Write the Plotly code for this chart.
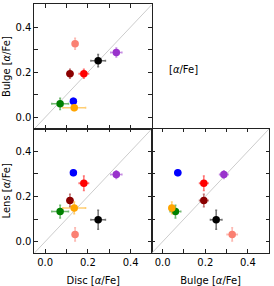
import plotly.graph_objects as go

# --- data ---
colors = ["#FA8072", "#8B0000", "#FF0000", "#000000", "#9932CC", "#0000FF", "#008000", "#FFA500"]
disc = [0.140, 0.116, 0.181, 0.248, 0.333, 0.132, 0.070, 0.136]
disc_err = [0.012, 0.015, 0.022, 0.034, 0.026, 0.012, 0.039, 0.053]
bulge = [0.326, 0.193, 0.193, 0.251, 0.287, 0.071, 0.060, 0.043]
bulge_err = [0.024, 0.020, 0.020, 0.027, 0.020, 0.014, 0.025, 0.012]
lens = [0.032, 0.182, 0.258, 0.097, 0.297, 0.305, 0.133, 0.149]
lens_err = [0.029, 0.028, 0.032, 0.042, 0.017, 0.012, 0.028, 0.026]
lim = [-0.05, 0.5]
tick_vals = [0.0, 0.1, 0.2, 0.3, 0.4]
tick_text = ["0.0", "", "0.2", "", "0.4"]

FONT = "DejaVu Sans"


def rgba(hexc, a):
    h = hexc.lstrip("#")
    r, g, b = int(h[0:2], 16), int(h[2:4], 16), int(h[4:6], 16)
    return f"rgba({r},{g},{b},{a})"


fig = go.Figure()

panels = [
    (disc, disc_err, bulge, bulge_err, "x", "y"),
    (disc, disc_err, lens, lens_err, "x2", "y2"),
    (bulge, bulge_err, lens, lens_err, "x3", "y3"),
]

for xv, xe, yv, ye, xa, ya in panels:
    fig.add_trace(go.Scatter(x=lim, y=lim, mode="lines",
                             line=dict(color="#cccccc", width=1),
                             xaxis=xa, yaxis=ya, hoverinfo="skip"))
    for i, c in enumerate(colors):
        fig.add_trace(go.Scatter(
            x=[xv[i]], y=[yv[i]], mode="markers",
            marker=dict(color=c, size=7.5),
            error_x=dict(type="data", array=[xe[i]], color=rgba(c, 0.55), thickness=1.5, width=1),
            error_y=dict(type="data", array=[ye[i]], color=rgba(c, 0.55), thickness=1.5, width=1),
            xaxis=xa, yaxis=ya))

xL = [0.1259, 0.5547]
xR = [0.5547, 0.9828]
yT = [0.5437, 0.9843]
yB = [0.1031, 0.5437]

common = dict(range=lim, tickmode="array", tickvals=tick_vals, ticktext=tick_text,
              ticks="inside", ticklen=3.5, tickwidth=1, tickcolor="#222222",
              showline=True, linecolor="#222222", linewidth=1, mirror="ticks",
              showgrid=False, zeroline=False,
              tickfont=dict(family=FONT, size=10, color="black"))
tfont = dict(family=FONT, size=10, color="black")

fig.update_layout(
    width=274, height=286,
    margin=dict(l=0, r=0, t=0, b=0),
    paper_bgcolor="white", plot_bgcolor="white",
    showlegend=False,
    xaxis=dict(domain=xL, anchor="y", showticklabels=False, **common),
    yaxis=dict(domain=yT, anchor="x", title=dict(text="Bulge [<i>α</i>/Fe]", font=tfont, standoff=3), **common),
    xaxis2=dict(domain=xL, anchor="y2", title=dict(text="Disc [<i>α</i>/Fe]", font=tfont, standoff=11), **common),
    yaxis2=dict(domain=yB, anchor="x2", title=dict(text="Lens [<i>α</i>/Fe]", font=tfont, standoff=3), **common),
    xaxis3=dict(domain=xR, anchor="y3", title=dict(text="Bulge [<i>α</i>/Fe]", font=tfont, standoff=11), **common),
    yaxis3=dict(domain=yB, anchor="x3", showticklabels=False, **common),
    annotations=[dict(text="[<i>α</i>/Fe]", x=200 / 274, y=1 - 63 / 286, xref="paper", yref="paper",
                      showarrow=False, font=dict(family=FONT, size=10, color="black"))],
)

fig.write_html("out.html", config={"displayModeBar": False},
               post_script="document.body.style.margin='0';document.body.style.overflow='hidden';")
